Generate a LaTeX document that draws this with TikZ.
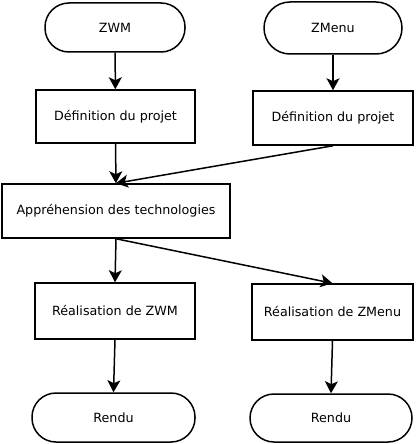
\documentclass[tikz,border=0pt]{standalone}
\usepackage{fontspec}
\setmainfont{DejaVu Sans}
\usetikzlibrary{arrows.meta}

\begin{document}
\begin{tikzpicture}[x=1pt, y=-1pt, font=\fontsize{12.7}{15}\selectfont,
  box/.style={draw, line width=1.5pt, inner sep=0pt, minimum width=160pt, minimum height=54pt},
  term/.style={draw, line width=1.5pt, inner sep=0pt, rounded corners=24pt, minimum width=140pt, minimum height=49pt},
  flow/.style={-{Stealth[length=12pt, width=13pt, inset=3pt]}, line width=1.5pt}]
  \useasboundingbox (0,0) rectangle (415,444);
  \node(zwm)[term] at (115,27.5) {ZWM};
  \node(zmenu)[term, minimum width=138pt, minimum height=52pt, rounded corners=26pt] at (333,28) {ZMenu};
  \node(def1)[box, minimum width=159pt, minimum height=53pt] at (115.5,116.5) {Définition du projet};
  \node(def2)[box] at (333,118) {Définition du projet};
  \node(appr)[box, minimum width=228pt] at (116,211) {Appréhension des technologies};
  \node(real1)[box, minimum height=56pt] at (115,311) {Réalisation de ZWM};
  \node(real2)[box, minimum width=161pt, minimum height=56pt] at (332.5,312) {Réalisation de ZMenu};
  \node(rendu1)[term, minimum width=163pt] at (113.5,417.5) {Rendu};
  \node(rendu2)[term, minimum width=162pt, minimum height=48pt] at (331,418) {Rendu};
  \draw[flow] (zwm) -- (def1);
  \draw[flow] (zmenu) -- (def2);
  \draw[flow] (def1) -- (appr);
  \draw[flow] (def2.south) -- (appr.north);
  \draw[flow] (appr.south) -- (real1.north);
  \draw[flow] (appr.south) -- (real2.north);
  \draw[flow] (real1.south) -- (rendu1.north);
  \draw[flow] (real2.south) -- (rendu2.north);
\end{tikzpicture}
\end{document}
